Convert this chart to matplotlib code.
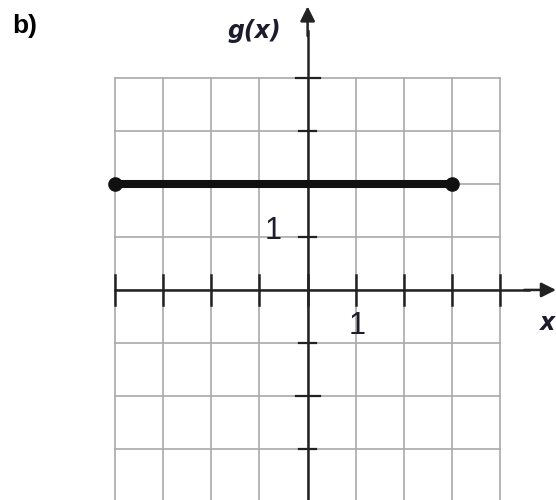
"""
Constant function g(x) = 2 on [-4, 3], drawn on a hand-style grid.
"""

import matplotlib.pyplot as plt

# Data
GRID_X = [-4, -3, -2, -1, 0, 1, 2, 3, 4]
GRID_Y = [-4, -3, -2, -1, 0, 1, 2, 3, 4]
Y_TICKS = [-3, -2, -1, 1, 3, 4]
SEG_X = [-4, 3]
SEG_Y = [2, 2]

GRID_COLOR = '#a9a9a9'
AXIS_COLOR = '#222222'
TEXT_COLOR = '#1c1c2a'

fig = plt.figure(figsize=(5.56, 5.00), dpi=100)
ax = fig.add_axes([0, 0, 1, 1])
ax.set_xlim(-6.39, 5.16)
ax.set_ylim(-3.97, 5.48)
ax.axis('off')

# Grid
for gx in GRID_X:
    ax.plot([gx, gx], [-4.2, 4], color=GRID_COLOR, lw=1.2, zorder=1)
for gy in GRID_Y:
    ax.plot([-4, 4], [gy, gy], color=GRID_COLOR, lw=1.2, zorder=1)

# Axes with arrows
ax.plot([-4, 4.6], [0, 0], color=AXIS_COLOR, lw=1.8, zorder=2)
ax.plot([0, 0], [-4.2, 4.9], color=AXIS_COLOR, lw=1.8, zorder=2)
ax.annotate('', xy=(5.16, 0), xytext=(4.5, 0),
            arrowprops=dict(arrowstyle='-|>', mutation_scale=22,
                            lw=1.8, color=AXIS_COLOR, shrinkA=0, shrinkB=0))
ax.annotate('', xy=(0, 5.36), xytext=(0, 4.8),
            arrowprops=dict(arrowstyle='-|>', mutation_scale=22,
                            lw=1.8, color=AXIS_COLOR, shrinkA=0, shrinkB=0))

# Tick marks
for gx in GRID_X:
    ax.plot([gx, gx], [-0.28, 0.28], color=AXIS_COLOR, lw=1.8, zorder=2)
for gy in Y_TICKS:
    half = 0.25 if gy % 2 == 0 else 0.17
    ax.plot([-half, half], [gy, gy], color=AXIS_COLOR, lw=1.6, zorder=2)

# The function
ax.plot(SEG_X, SEG_Y, color='#111111', lw=5.8, solid_capstyle='butt', zorder=3)
ax.plot(SEG_X, SEG_Y, 'o', color='#111111', ms=9.5, zorder=4)

# Labels
ax.text(-0.72, 1.12, '1', fontsize=22, color=TEXT_COLOR, family='Liberation Sans',
        fontstretch='condensed', ha='center', va='center')
ax.text(1.03, -0.68, '1', fontsize=22, color=TEXT_COLOR, family='Liberation Sans',
        fontstretch='condensed', ha='center', va='center')
ax.text(-1.1, 4.9, 'g(x)', fontsize=17, color=TEXT_COLOR,
        fontweight='bold', fontstyle='italic', ha='center', va='center')
ax.text(5.14, -0.63, 'x', fontsize=17, color=TEXT_COLOR,
        fontweight='bold', fontstyle='italic', ha='right', va='center')
fig.text(0.022, 0.948, 'b)', fontsize=19, fontweight='bold', color='black',
         family='Liberation Sans', ha='left', va='center')

fig.savefig('out.png', dpi=100)
